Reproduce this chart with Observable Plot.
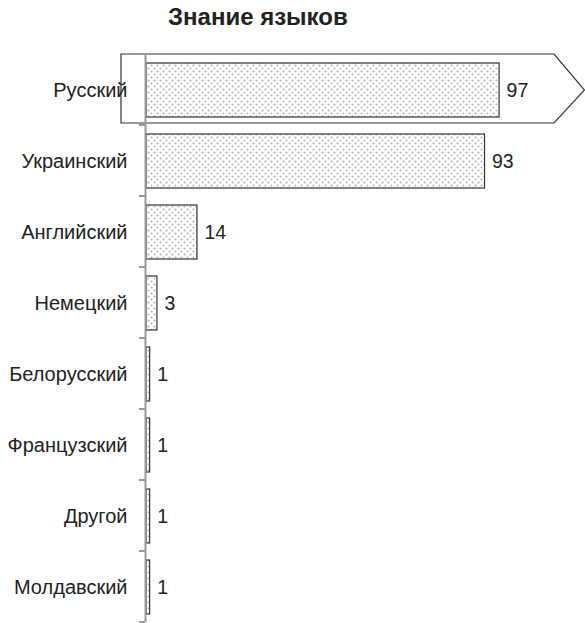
<!DOCTYPE html>
<html>
<head>
<meta charset="utf-8">
<script src="https://cdn.jsdelivr.net/npm/d3@7"></script>
<script src="https://cdn.jsdelivr.net/npm/@observablehq/plot@0.6"></script>
<style>
  html, body { margin: 0; padding: 0; background: #fff; }
  #title { height: 40px; box-sizing: border-box; padding-top: 5px; padding-left: 168px;
           font: bold 24px/24px "Liberation Sans", Arial, sans-serif; color: #222; }
  #chart svg { display: block; }
</style>
</head>
<body>
<div id="title">Знание языков</div>
<div id="chart"></div>
<script>
const languages = ["Русский", "Украинский", "Английский", "Немецкий", "Белорусский", "Французский", "Другой", "Молдавский"];
const shares = [97, 93, 14, 3, 1, 1, 1, 1];
const highlighted = "Русский";

const data = languages.map((lang, i) => ({lang, value: shares[i]}));

const W = 585, H = 583;
const font = '"Liberation Sans", Arial, sans-serif';

const plot = Plot.plot({
  width: W,
  height: H,
  marginTop: 14,
  marginBottom: 1,
  marginLeft: 146,
  marginRight: 75,
  style: {fontFamily: font, color: "#222", background: "#fff", overflow: "visible"},
  x: {domain: [0, 100], axis: null},
  y: {domain: languages, paddingInner: 0.24, paddingOuter: 0.12, label: null},
  marks: [
    Plot.axisY({tickSize: 0, tickPadding: 19, fontSize: 20, fill: "#222"}),
    Plot.barX(data, {x: "value", y: "lang", fill: "url(#dots)", stroke: "#333", strokeWidth: 1.2}),
    Plot.ruleX([0], {stroke: "#999", strokeWidth: 2, dx: -1}),
    Plot.text(data, {x: "value", y: "lang", text: d => String(d.value), dx: 7, textAnchor: "start", fontSize: 19.5, fill: "#222"})
  ]
});

const svg = d3.select(plot);
// dot pattern
const defs = svg.insert("defs", ":first-child");
const pat = defs.append("pattern").attr("id", "dots").attr("patternUnits", "userSpaceOnUse")
  .attr("width", 6).attr("height", 6);
pat.append("rect").attr("width", 6).attr("height", 6).attr("fill", "#fff");
pat.append("circle").attr("cx", 1.5).attr("cy", 1.5).attr("r", 1).attr("fill", "#b0b0b0");
pat.append("circle").attr("cx", 4.5).attr("cy", 4.5).attr("r", 1).attr("fill", "#b0b0b0");

const xS = plot.scale("x"), yS = plot.scale("y");
const x0 = xS.apply(0);
const bw = yS.bandwidth, step = yS.step;
const yStart = yS.range[0];

// highlight arrow behind the bars
const by = yS.apply(highlighted);
const boxTop = by - 9, boxBot = by + bw + 6, boxMid = by + bw / 2;
const boxLeft = x0 - 25, boxRight = W - 31, boxTip = W - 0.5;
svg.insert("path", "defs + *")
  .attr("d", `M${boxLeft},${boxTop}H${boxRight}L${boxTip},${boxMid}L${boxRight},${boxBot}H${boxLeft}Z`)
  .attr("fill", "#fff").attr("stroke", "#333").attr("stroke-width", 1.2);

// category boundary ticks
const g = svg.append("g").attr("stroke", "#999").attr("stroke-width", 2);
for (let i = 0; i <= languages.length; i++) {
  const yy = yStart + i * step;
  g.append("line").attr("x1", x0 - 7).attr("x2", x0 - 1).attr("y1", yy).attr("y2", yy);
}

document.getElementById("chart").appendChild(plot);
</script>
</body>
</html>
